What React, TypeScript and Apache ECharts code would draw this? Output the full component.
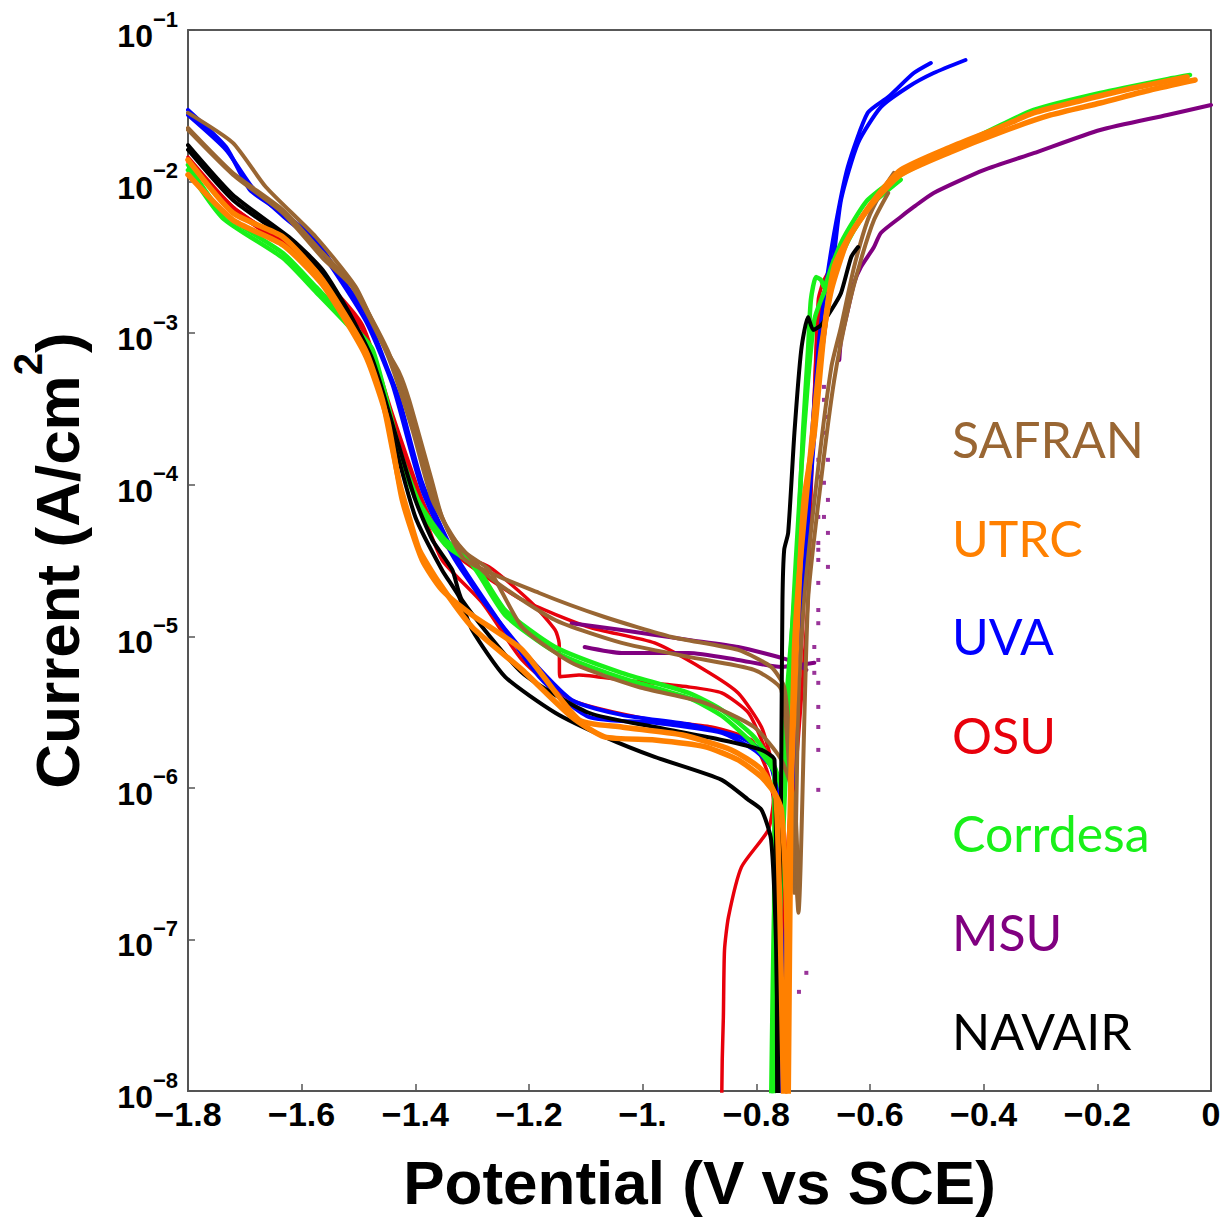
import React, { useEffect, useRef } from 'react';
import * as echarts from 'echarts';

type Pt = [number, number];

// Lab names and their curve colours (legend order)
const labNames = ['SAFRAN', 'UTRC', 'UVA', 'OSU', 'Corrdesa', 'MSU', 'NAVAIR'];
const labColors = ['#996633', '#ff8000', '#0000ff', '#e8000b', '#19f019', '#800080', '#000000'];
const labLineWidths = [4, 5.5, 4, 3.5, 4.5, 4, 4];

// Potential (V vs SCE), current density (A/cm2)
const safranRun1: Pt[] = [
  [-1.8, 2.84e-2], [-1.721, 1.8e-2], [-1.663, 9.21e-3], [-1.575, 4.31e-3], [-1.505, 2.02e-3],
  [-1.458, 8.62e-4], [-1.428, 5.46e-4], [-1.411, 3.63e-4], [-1.37, 1.03e-4], [-1.353, 6.13e-5],
  [-1.312, 3.19e-5], [-1.182, 1.93e-5], [-1.067, 1.34e-5], [-0.949, 9.9e-6], [-0.832, 8.13e-6],
  [-0.774, 6.28e-6], [-0.751, 4.63e-6], [-0.739, 1.53e-6], [-0.733, 2.03e-7], [-0.726, 3.8e-6],
  [-0.716, 1.74e-5], [-0.691, 1.31e-4], [-0.668, 5.98e-4], [-0.651, 1.1e-3], [-0.628, 2.73e-3],
  [-0.604, 5.58e-3], [-0.581, 8.41e-3], [-0.558, 1.14e-2],
];
const safranRun2: Pt[] = [
  [-1.8, 2.26e-2], [-1.721, 1.14e-2], [-1.633, 6.5e-3], [-1.563, 3.38e-3], [-1.511, 2.08e-3],
  [-1.449, 7.75e-4], [-1.405, 2.68e-4], [-1.37, 9.24e-5], [-1.34, 4.81e-5], [-1.27, 2.47e-5],
  [-1.154, 1.28e-5], [-1.037, 9.04e-6], [-0.919, 7.31e-6], [-0.804, 6.0e-6], [-0.756, 4.43e-6],
  [-0.733, 3.9e-7], [-0.726, 1.5e-7], [-0.709, 1.74e-5], [-0.686, 1.08e-4], [-0.663, 4.9e-4],
  [-0.639, 1.42e-3], [-0.616, 3.04e-3], [-0.593, 5.58e-3], [-0.568, 8.41e-3],
];
const safranRun3: Pt[] = [
  [-1.8, 2.19e-2], [-1.721, 1.11e-2], [-1.633, 6.21e-3], [-1.563, 3.13e-3], [-1.511, 2.02e-3],
  [-1.449, 7.18e-4], [-1.405, 2.3e-4], [-1.37, 7.94e-5], [-1.318, 3.72e-5], [-1.27, 2.74e-5],
  [-1.212, 1.15e-5], [-1.125, 6.68e-6], [-1.007, 4.63e-6], [-0.891, 3.64e-6], [-0.804, 2.52e-6],
  [-0.756, 1.53e-6], [-0.733, 8.34e-7], [-0.726, 1.82e-7],
];

const utrcRun1: Pt[] = [
  [-1.8, 1.39e-2], [-1.721, 6.21e-3], [-1.633, 4.31e-3], [-1.563, 2.24e-3], [-1.488, 7.75e-4],
  [-1.458, 3.63e-4], [-1.44, 1.7e-4], [-1.428, 1.03e-4], [-1.411, 6.13e-5], [-1.393, 3.72e-5],
  [-1.358, 2.25e-5], [-1.3, 1.15e-5], [-1.212, 6.0e-6], [-1.125, 2.94e-6], [-1.067, 2.17e-6],
  [-0.979, 2.07e-6], [-0.891, 1.87e-6], [-0.832, 1.53e-6], [-0.791, 1.18e-6], [-0.768, 9.27e-7],
  [-0.756, 7.16e-7], [-0.747, 1.82e-7], [-0.744, 8e-9], [-0.739, 8.34e-7], [-0.726, 1.74e-5],
  [-0.716, 7.94e-5], [-0.698, 2.2e-4], [-0.681, 1.0e-3], [-0.663, 2.73e-3], [-0.633, 4.58e-3],
  [-0.593, 7.56e-3], [-0.546, 1.19e-2], [-0.458, 1.69e-2], [-0.37, 2.29e-2], [-0.312, 2.84e-2],
  [-0.225, 3.45e-2], [-0.137, 4.14e-2], [-0.042, 4.9e-2],
];
const utrcRun2: Pt[] = [
  [-1.8, 1.11e-2], [-1.721, 5.58e-3], [-1.633, 3.82e-3], [-1.563, 2.08e-3], [-1.488, 7.18e-4],
  [-1.449, 2.68e-4], [-1.423, 7.94e-5], [-1.388, 3.19e-5], [-1.353, 2.02e-5], [-1.3, 1.38e-5],
  [-1.212, 8.13e-6], [-1.112, 2.81e-6], [-1.037, 2.52e-6], [-0.932, 2.24e-6], [-0.844, 1.78e-6],
  [-0.791, 1.32e-6], [-0.765, 8.34e-7], [-0.751, 8e-9], [-0.744, 1.82e-7], [-0.733, 8.13e-6],
  [-0.721, 3.72e-5], [-0.704, 1.7e-4], [-0.686, 7.75e-4], [-0.668, 1.93e-3], [-0.639, 4.12e-3],
  [-0.598, 7.01e-3], [-0.546, 1.11e-2], [-0.458, 1.57e-2], [-0.37, 2.12e-2], [-0.282, 2.75e-2],
  [-0.195, 3.3e-2], [-0.107, 4.02e-2], [-0.028, 4.68e-2],
];

const uvaRun1: Pt[] = [
  [-1.8, 2.97e-2], [-1.733, 1.69e-2], [-1.691, 8.8e-3], [-1.633, 6.21e-3], [-1.575, 4.12e-3],
  [-1.528, 2.24e-3], [-1.488, 1.36e-3], [-1.446, 5.46e-4], [-1.428, 3.63e-4], [-1.388, 1.03e-4],
  [-1.335, 3.72e-5], [-1.282, 1.82e-5], [-1.182, 5.4e-6], [-1.095, 2.94e-6], [-0.979, 2.69e-6],
  [-0.861, 2.31e-6], [-0.804, 1.78e-6], [-0.774, 1.38e-6], [-0.76, 8.34e-7], [-0.756, 8e-9],
  [-0.747, 1.82e-7], [-0.733, 1.78e-6], [-0.721, 1.74e-5], [-0.704, 1.7e-4], [-0.691, 7.75e-4],
  [-0.681, 1.66e-3], [-0.663, 4.58e-3], [-0.639, 1.25e-2], [-0.604, 2.84e-2], [-0.568, 3.61e-2],
  [-0.523, 5.2e-2], [-0.493, 6.06e-2],
];
const uvaRun2: Pt[] = [
  [-1.8, 2.75e-2], [-1.733, 1.62e-2], [-1.686, 9.07e-3], [-1.633, 5.93e-3], [-1.575, 3.82e-3],
  [-1.488, 1.22e-3], [-1.44, 4.55e-4], [-1.388, 9.24e-5], [-1.335, 3.44e-5], [-1.282, 1.74e-5],
  [-1.212, 8.13e-6], [-1.125, 3.8e-6], [-1.037, 3.03e-6], [-0.914, 2.6e-6], [-0.826, 2.14e-6],
  [-0.782, 1.65e-6], [-0.765, 9.7e-7], [-0.761, 8e-9], [-0.739, 8.34e-7], [-0.721, 1.28e-5],
  [-0.704, 1.08e-4], [-0.686, 6.66e-4], [-0.668, 2.24e-3], [-0.651, 7.56e-3], [-0.621, 1.8e-2],
  [-0.581, 3.1e-2], [-0.533, 4.21e-2], [-0.488, 5.2e-2], [-0.432, 6.34e-2],
];

const osuRun1: Pt[] = [
  [-1.8, 1.35e-2], [-1.721, 6.5e-3], [-1.633, 3.82e-3], [-1.563, 2.24e-3], [-1.493, 1.05e-3],
  [-1.44, 2.68e-4], [-1.388, 7.59e-5], [-1.34, 3.72e-5], [-1.27, 2.87e-5], [-1.195, 1.66e-5],
  [-1.154, 1.1e-5], [-1.147, 9.04e-6], [-1.146, 5.4e-6], [-1.112, 5.56e-6], [-1.037, 5.15e-6],
  [-0.919, 4.63e-6], [-0.861, 4.23e-6], [-0.814, 3.13e-6], [-0.786, 1.87e-6], [-0.768, 1.18e-6],
  [-0.76, 3.9e-7], [-0.756, 8e-9], [-0.747, 1.82e-7], [-0.721, 3.8e-6], [-0.709, 1.74e-5],
  [-0.704, 7.94e-5], [-0.698, 3.63e-4], [-0.691, 1.66e-3], [-0.681, 2.24e-3], [-0.66, 3.04e-3],
  [-0.633, 4.44e-3],
];
const osuRun2: Pt[] = [
  [-1.8, 1.45e-2], [-1.721, 6.8e-3], [-1.633, 4.0e-3], [-1.563, 2.31e-3], [-1.493, 1.13e-3],
  [-1.44, 2.89e-4], [-1.388, 7.94e-5], [-1.353, 4.32e-5], [-1.318, 3.19e-5], [-1.212, 1.74e-5],
  [-1.095, 1.15e-5], [-0.979, 9.04e-6], [-0.891, 6.0e-6], [-0.832, 4.23e-6], [-0.791, 2.52e-6],
  [-0.774, 1.53e-6], [-0.765, 8.34e-7], [-0.76, 8e-9], [-0.751, 1.82e-7], [-0.726, 3.8e-6],
  [-0.712, 3.72e-5], [-0.7, 2.68e-4], [-0.691, 1.22e-3], [-0.677, 2.08e-3], [-0.651, 3.28e-3],
];
const osuRun3: Pt[] = [
  [-1.8, 1.39e-2], [-1.721, 6.8e-3], [-1.633, 3.94e-3], [-1.563, 2.24e-3], [-1.493, 1.1e-3],
  [-1.44, 2.68e-4], [-1.388, 6.82e-5], [-1.353, 3.19e-5], [-1.282, 1.66e-5], [-1.212, 6.98e-6],
  [-1.125, 3.8e-6], [-0.984, 2.81e-6], [-0.879, 2.52e-6], [-0.809, 2.07e-6], [-0.782, 1.32e-6],
  [-0.77, 8.34e-7], [-0.779, 5.28e-7], [-0.826, 3.01e-7], [-0.849, 1.41e-7], [-0.856, 8.5e-8],
  [-0.858, 3.08e-8], [-0.86, 1.61e-8], [-0.861, 8e-9],
];

const corrdesaRun1: Pt[] = [
  [-1.8, 1.29e-2], [-1.739, 6.21e-3], [-1.633, 3.38e-3], [-1.575, 2.02e-3], [-1.519, 1.22e-3],
  [-1.475, 7.75e-4], [-1.428, 1.7e-4], [-1.393, 7.59e-5], [-1.347, 4.32e-5], [-1.3, 3.19e-5],
  [-1.242, 1.49e-5], [-1.154, 8.5e-6], [-1.037, 5.74e-6], [-0.919, 4.23e-6], [-0.861, 3.27e-6],
  [-0.804, 2.17e-6], [-0.768, 1.38e-6], [-0.756, 9.27e-7], [-0.768, 1.82e-7], [-0.774, 8e-9],
  [-0.765, 1.82e-7], [-0.747, 3.8e-6], [-0.733, 1.74e-5], [-0.726, 4.81e-5], [-0.718, 2.2e-4],
  [-0.709, 7.75e-4], [-0.704, 1.66e-3], [-0.695, 2.35e-3], [-0.686, 2.24e-3], [-0.681, 2.02e-3],
  [-0.668, 2.73e-3], [-0.651, 3.94e-3], [-0.628, 5.58e-3], [-0.604, 7.56e-3], [-0.546, 1.11e-2],
  [-0.458, 1.62e-2], [-0.37, 2.36e-2], [-0.312, 2.97e-2], [-0.195, 3.84e-2], [-0.067, 4.82e-2],
  [-0.037, 5.05e-2],
];
const corrdesaRun2: Pt[] = [
  [-1.8, 1.19e-2], [-1.739, 5.75e-3], [-1.633, 3.13e-3], [-1.575, 1.87e-3], [-1.519, 1.13e-3],
  [-1.475, 7.18e-4], [-1.428, 1.57e-4], [-1.393, 7.14e-5], [-1.347, 4.01e-5], [-1.3, 2.96e-5],
  [-1.242, 1.38e-5], [-1.154, 7.89e-6], [-1.037, 5.31e-6], [-0.919, 3.92e-6], [-0.861, 2.99e-6],
  [-0.804, 1.92e-6], [-0.768, 1.22e-6], [-0.77, 8e-9], [-0.761, 8.5e-8], [-0.739, 8.13e-6],
  [-0.721, 1.25e-4], [-0.709, 4.9e-4], [-0.698, 1.22e-3], [-0.686, 1.66e-3], [-0.663, 2.61e-3],
  [-0.633, 4.44e-3], [-0.598, 7.01e-3], [-0.546, 1.03e-2],
];

const msuRun1: Pt[] = [
  [-1.102, 8.5e-6], [-1.037, 7.76e-6], [-0.919, 7.76e-6], [-0.832, 6.98e-6], [-0.756, 6.28e-6],
  [-0.721, 6.48e-6], [-0.698, 6.68e-6],
];
const msuRun2: Pt[] = [
  [-1.125, 1.22e-5], [-1.037, 1.1e-5], [-0.919, 9.47e-6], [-0.832, 8.5e-6], [-0.744, 6.98e-6],
  [-0.712, 6.0e-6],
];
const msuAnodic: Pt[] = [
  [-0.654, 6.66e-4], [-0.651, 9.0e-4], [-0.639, 1.42e-3], [-0.628, 2.14e-3], [-0.616, 2.73e-3],
  [-0.593, 3.7e-3], [-0.581, 4.58e-3], [-0.546, 5.84e-3], [-0.523, 6.8e-3], [-0.488, 8.41e-3],
  [-0.4, 1.19e-2], [-0.312, 1.54e-2], [-0.195, 2.19e-2], [-0.077, 2.75e-2], [0, 3.2e-2],
];
// Scattered MSU readings around the corrosion potential
const msuPoints: Pt[] = [
  [-0.691, 3.72e-5], [-0.691, 3.19e-5], [-0.691, 2.25e-5], [-0.691, 1.49e-5], [-0.691, 1.22e-5],
  [-0.698, 8.5e-6], [-0.691, 6.98e-6], [-0.698, 5.74e-6], [-0.691, 4.93e-6], [-0.691, 3.42e-6],
  [-0.691, 2.52e-6], [-0.691, 1.78e-6], [-0.691, 9.7e-7], [-0.712, 6.02e-8], [-0.725, 4.51e-8],
  [-0.681, 4.42e-4], [-0.681, 3.63e-4], [-0.674, 2.8e-4], [-0.681, 2.2e-4], [-0.674, 1.46e-4],
  [-0.681, 1.03e-4], [-0.674, 7.94e-5], [-0.681, 6.13e-5], [-0.674, 4.81e-5], [-0.674, 2.87e-5],
  [-0.691, 1.46e-4], [-0.691, 1.13e-4], [-0.691, 6.13e-5], [-0.691, 4.13e-5],
];

const navairRun1: Pt[] = [
  [-1.8, 1.62e-2], [-1.721, 7.56e-3], [-1.616, 3.94e-3], [-1.563, 2.5e-3], [-1.528, 1.49e-3],
  [-1.488, 8.11e-4], [-1.44, 2.07e-4], [-1.4, 6.13e-5], [-1.353, 2.74e-5], [-1.323, 1.82e-5],
  [-1.3, 1.1e-5], [-1.242, 5.4e-6], [-1.154, 3.13e-6], [-1.067, 2.17e-6], [-0.979, 1.6e-6],
  [-0.861, 1.13e-6], [-0.814, 8.34e-7], [-0.791, 7.16e-7], [-0.774, 4.54e-7], [-0.765, 8.5e-8],
  [-0.761, 8e-9],
];
const navairRun2: Pt[] = [
  [-1.8, 1.74e-2], [-1.721, 8.16e-3], [-1.616, 4.12e-3], [-1.563, 2.61e-3], [-1.519, 1.42e-3],
  [-1.475, 6.66e-4], [-1.432, 1.97e-4], [-1.4, 7.94e-5], [-1.37, 4.32e-5], [-1.335, 2.74e-5],
  [-1.318, 1.74e-5], [-1.212, 5.74e-6], [-1.095, 3.13e-6], [-0.979, 2.52e-6], [-0.861, 2.07e-6],
  [-0.791, 1.78e-6], [-0.768, 1.53e-6], [-0.763, 8e-9], [-0.758, 1.82e-7], [-0.756, 1.78e-6],
  [-0.754, 1.74e-5], [-0.751, 3.72e-5], [-0.744, 4.81e-5], [-0.733, 2.2e-4], [-0.721, 7.75e-4],
  [-0.709, 1.28e-3], [-0.7, 1.05e-3], [-0.686, 1.13e-3], [-0.668, 1.42e-3], [-0.651, 1.84e-3],
  [-0.633, 3.18e-3], [-0.621, 3.7e-3],
];

const runsByLab: Pt[][][] = [
  [safranRun1, safranRun2, safranRun3],
  [utrcRun1, utrcRun2],
  [uvaRun1, uvaRun2],
  [osuRun1, osuRun2, osuRun3],
  [corrdesaRun1, corrdesaRun2],
  [msuRun1, msuRun2, msuAnodic],
  [navairRun1, navairRun2],
];

// drawing order (later = on top)
const drawOrder = [3, 5, 2, 4, 0, 6, 1];

const AXIS_FONT = '"Liberation Sans", Arial, sans-serif';

function potentialLabel(v: number): string {
  const r = Math.round(v * 10) / 10;
  if (r === 0) return '0';
  let s = Math.abs(r).toString();
  if (!s.includes('.')) s += '.';
  return (r < 0 ? '\u2212' : '') + s;
}

function currentLabel(v: number): string {
  const e = Math.round(Math.log10(v));
  return `{b|10}{s|\u2212${Math.abs(e)}}`;
}

function buildOption(): echarts.EChartsOption {
  const series: any[] = [];
  drawOrder.forEach((li) => {
    const color = labColors[li];
    runsByLab[li].forEach((run) => {
      series.push({
        type: 'line',
        name: labNames[li],
        data: run,
        symbol: 'none',
        smooth: 0.2,
        clip: true,
        silent: true,
        lineStyle: { color, width: labLineWidths[li], join: 'round', cap: 'round' },
        itemStyle: { color },
      });
    });
    if (li === 5) {
      series.push({
        type: 'scatter',
        name: labNames[li],
        data: msuPoints,
        symbol: 'rect',
        symbolSize: 4,
        silent: true,
        itemStyle: { color },
      });
    }
  });

  const legendTexts = labNames.map((n, i) => ({
    type: 'text',
    x: 952,
    y: 439 + i * 98.6,
    style: {
      text: n,
      fill: labColors[i],
      font: '50px Lato, "Open Sans", sans-serif',
      verticalAlign: 'middle',
      align: 'left',
    },
    z: 10,
  }));

  return {
    animation: false,
    backgroundColor: '#ffffff',
    grid: {
      left: 185,
      top: 30,
      width: 1026,
      height: 1061,
      show: true,
      borderColor: '#222',
      borderWidth: 1.5,
      backgroundColor: 'transparent',
    },
    xAxis: {
      type: 'value',
      min: -1.8,
      max: 0,
      interval: 0.2,
      name: 'Potential (V vs SCE)',
      nameLocation: 'middle',
      nameGap: 60,
      nameTextStyle: { fontFamily: AXIS_FONT, fontWeight: 'bold', fontSize: 62, color: '#000' },
      axisLine: { show: true, onZero: false, lineStyle: { color: '#555', width: 2 } },
      axisTick: { show: true, inside: true, length: 7, lineStyle: { color: '#555', width: 1.5 } },
      splitLine: { show: false },
      axisLabel: {
        formatter: potentialLabel,
        fontFamily: AXIS_FONT,
        fontWeight: 'bold',
        fontSize: 34,
        color: '#000',
        margin: 6,
        showMinLabel: true,
        showMaxLabel: true,
      },
    },
    yAxis: {
      type: 'log',
      logBase: 10,
      min: 1e-8,
      max: 1e-1,
      splitNumber: 7,
      name: '{t|Current (A/cm}{s|2}{t|)}',
      nameLocation: 'middle',
      nameRotate: 90,
      nameGap: 100,
      nameTextStyle: {
        color: '#000',
        rich: {
          t: { fontFamily: AXIS_FONT, fontWeight: 'bold', fontSize: 62, lineHeight: 80, verticalAlign: 'bottom' },
          s: { fontFamily: AXIS_FONT, fontWeight: 'bold', fontSize: 40, lineHeight: 40, verticalAlign: 'top' },
        },
      },
      axisLine: { show: true, onZero: false, lineStyle: { color: '#555', width: 2 } },
      axisTick: { show: true, inside: true, length: 7, lineStyle: { color: '#555', width: 1.5 } },
      minorTick: { show: false },
      splitLine: { show: false },
      axisLabel: {
        formatter: currentLabel,
        margin: 10,
        color: '#000',
        rich: {
          b: { fontFamily: AXIS_FONT, fontWeight: 'bold', fontSize: 32, lineHeight: 44, verticalAlign: 'bottom', color: '#000' },
          s: { fontFamily: AXIS_FONT, fontWeight: 'bold', fontSize: 22, lineHeight: 22, verticalAlign: 'top', color: '#000' },
        },
      },
    },
    graphic: legendTexts as any,
    series,
  };
}

export default function App() {
  const ref = useRef<HTMLDivElement>(null);
  useEffect(() => {
    document.body.style.margin = '0';
    const chart = echarts.init(ref.current!, null, { renderer: 'svg' });
    chart.setOption(buildOption());
    return () => chart.dispose();
  }, []);
  return <div ref={ref} style={{ width: 1224, height: 1223 }} />;
}
